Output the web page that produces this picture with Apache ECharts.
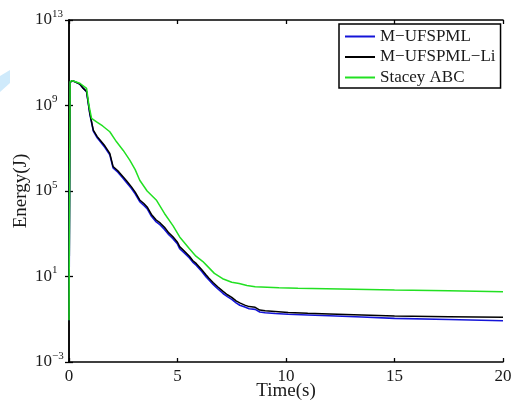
<!DOCTYPE html>
<html>
<head>
<meta charset="utf-8">
<script src="https://cdn.jsdelivr.net/npm/echarts@6/dist/echarts.min.js"></script>
<style>html,body{margin:0;padding:0;background:#fff;}#c{width:512px;height:403px;}</style>
</head>
<body>
<div id="c"></div>
<script>
// ---- data ----
const seriesNames = ['M\u2212UFSPML', 'M\u2212UFSPML\u2212Li', 'Stacey ABC'];

const tMain = [0, 0.05, 0.15, 0.3, 0.5, 0.66, 0.81, 0.96, 1.12, 1.3, 1.42, 1.65, 1.88, 2.03, 2.25, 2.49, 2.65, 2.87, 3.05, 3.26, 3.45, 3.6, 3.8, 4.02, 4.2, 4.4, 4.6, 4.79, 5.0, 5.1, 5.3, 5.55, 5.7, 5.87, 6.1, 6.32, 6.45, 6.64, 6.85, 7.1, 7.3, 7.5, 7.7, 7.87, 8.1, 8.3, 8.58, 8.79, 9.04, 9.5, 10.1, 11, 12, 13.5, 15, 17.5, 20];

const blueEnergy = [0.09, 1.2e10, 1.45e10, 1.25e10, 1.0e10, 6.3e9, 4.4e9, 4.0e8, 6.3e7, 3.1e7, 2.2e7, 1.1e7, 5.0e6, 1.2e6, 7.6e5, 4.0e5, 2.5e5, 1.35e5, 7.4e4, 3.2e4, 2.1e4, 1.5e4, 6.6e3, 3.6e3, 2.6e3, 1.6e3, 9.0e2, 5.9e2, 3.3e2, 2.0e2, 1.3e2, 74, 47, 33, 18, 9.6, 6.9, 4.3, 2.7, 1.6, 1.15, 0.85, 0.58, 0.45, 0.37, 0.31, 0.29, 0.22, 0.20, 0.185, 0.17, 0.158, 0.145, 0.127, 0.11, 0.098, 0.085];

const blackEnergy = [0.09, 1.2e10, 1.45e10, 1.25e10, 1.0e10, 6.3e9, 4.5e9, 4.3e8, 7.1e7, 3.5e7, 2.5e7, 1.3e7, 5.8e6, 1.4e6, 8.9e5, 4.7e5, 3.0e5, 1.6e5, 8.9e4, 3.8e4, 2.6e4, 1.8e4, 8.0e3, 4.4e3, 3.2e3, 2.0e3, 1.1e3, 7.2e2, 4.0e2, 2.5e2, 1.6e2, 89, 56, 40, 22, 11.7, 8.3, 5.2, 3.3, 2.0, 1.4, 1.05, 0.72, 0.58, 0.46, 0.39, 0.36, 0.27, 0.25, 0.23, 0.205, 0.19, 0.178, 0.158, 0.141, 0.132, 0.123];

const tGreen = [0, 0.05, 0.15, 0.3, 0.5, 0.81, 0.92, 1.04, 1.27, 1.55, 1.88, 2.19, 2.5, 2.8, 3.05, 3.26, 3.6, 4.02, 4.4, 4.79, 5.1, 5.55, 5.85, 6.17, 6.32, 6.7, 7.08, 7.5, 7.84, 8.2, 8.58, 9.68, 10.55, 12.5, 15, 17.5, 20];
const greenEnergy = [0.09, 1.3e10, 1.45e10, 1.3e10, 1.1e10, 6.3e9, 1.0e9, 2.5e8, 1.7e8, 1.1e8, 5.9e7, 2.0e7, 7.9e6, 2.8e6, 1.0e6, 3.2e5, 1.0e5, 3.8e4, 8.9e3, 2.4e3, 7.1e2, 2.0e2, 89, 50, 35, 14, 7.9, 5.4, 4.7, 3.8, 3.3, 3.0, 2.8, 2.6, 2.35, 2.15, 1.95];

const xTicks = [0, 5, 10, 15, 20];
const yTickValues = [1e-3, 1e1, 1e5, 1e9, 1e13];
const yTickExponents = ['\u22123', '1', '5', '9', '13'];

// ---- chart ----
const FONT = 'Liberation Serif';
const TXT = '#1a1a1a';
const chart = echarts.init(document.getElementById('c'), null, {renderer: 'canvas'});

function pairs(ts, vs) { return ts.map((t, i) => [t, vs[i]]); }

const axisLine = {show: true, lineStyle: {color: '#000', width: 1.5}};
const tick = {show: true, inside: true, length: 4, lineStyle: {color: '#000', width: 1.3}};

const option = {
  backgroundColor: '#fff',
  animation: false,
  graphic: [{
    type: 'polygon',
    shape: {points: [[0, 76], [10, 70], [10, 83], [0, 92]]},
    style: {fill: '#cfeafb'},
    silent: true
  }],
  grid: {left: 69, right: 9, top: 20, bottom: 41, containLabel: false, outerBoundsMode: 'none'},
  legend: {
    data: seriesNames,
    orient: 'vertical',
    left: 339,
    top: 24,
    icon: 'rect',
    itemWidth: 30,
    itemHeight: 2,
    itemGap: 3.5,
    padding: [4, 5, 2, 6],
    backgroundColor: '#fff',
    borderColor: '#000',
    borderWidth: 1.5,
    borderRadius: 0,
    selectedMode: false,
    textStyle: {fontFamily: FONT, fontSize: 17, color: TXT, lineHeight: 17}
  },
  xAxis: [{
    type: 'value', min: 0, max: 20, interval: 5,
    name: 'Time(s)', nameLocation: 'middle', nameGap: 20, nameMoveOverlap: false,
    nameTextStyle: {fontFamily: FONT, fontSize: 19, color: TXT},
    axisLine: axisLine, axisTick: tick,
    axisLabel: {fontFamily: FONT, fontSize: 17, color: TXT, margin: 6,
      customValues: xTicks},
    splitLine: {show: false}
  }, {
    type: 'value', min: 0, max: 20, interval: 5, position: 'top',
    axisLine: axisLine, axisTick: tick, axisLabel: {show: false}, splitLine: {show: false}
  }],
  yAxis: [{
    type: 'log', logBase: 10, min: 1e-3, max: 1e13,
    name: 'Energy(J)', nameLocation: 'middle', nameGap: 38, nameRotate: 90, nameMoveOverlap: false,
    nameTextStyle: {fontFamily: FONT, fontSize: 19, color: TXT},
    axisLine: axisLine,
    axisTick: Object.assign({}, tick, {customValues: yTickValues}),
    axisLabel: {
      customValues: yTickValues,
      align: 'left', margin: 34,
      formatter: function (v) {
        const i = yTickValues.findIndex(x => Math.abs(Math.log10(x) - Math.log10(v)) < 1e-6);
        return '{b|10}{s|' + (i >= 0 ? yTickExponents[i] : '') + '}';
      },
      rich: {
        b: {fontFamily: FONT, fontSize: 17, color: TXT},
        s: {fontFamily: FONT, fontSize: 11, color: TXT, padding: [0, 0, 12, 0]}
      }
    },
    splitLine: {show: false}
  }, {
    type: 'log', logBase: 10, min: 1e-3, max: 1e13, position: 'right',
    axisLine: axisLine,
    axisTick: Object.assign({}, tick, {customValues: yTickValues}),
    axisLabel: {show: false}, splitLine: {show: false}
  }],
  series: [{
    name: seriesNames[0], type: 'line', symbol: 'none', xAxisIndex: 0, yAxisIndex: 0,
    lineStyle: {color: '#1414d8', width: 1.6}, itemStyle: {color: '#1414d8'},
    data: pairs(tMain, blueEnergy)
  }, {
    name: seriesNames[1], type: 'line', symbol: 'none', xAxisIndex: 0, yAxisIndex: 0,
    lineStyle: {color: '#000000', width: 1.5}, itemStyle: {color: '#000000'},
    data: pairs(tMain, blackEnergy)
  }, {
    name: seriesNames[2], type: 'line', symbol: 'none', xAxisIndex: 0, yAxisIndex: 0,
    lineStyle: {color: '#22e022', width: 1.5}, itemStyle: {color: '#22e022'},
    data: pairs(tGreen, greenEnergy)
  }]
};
chart.setOption(option);
</script>
</body>
</html>
